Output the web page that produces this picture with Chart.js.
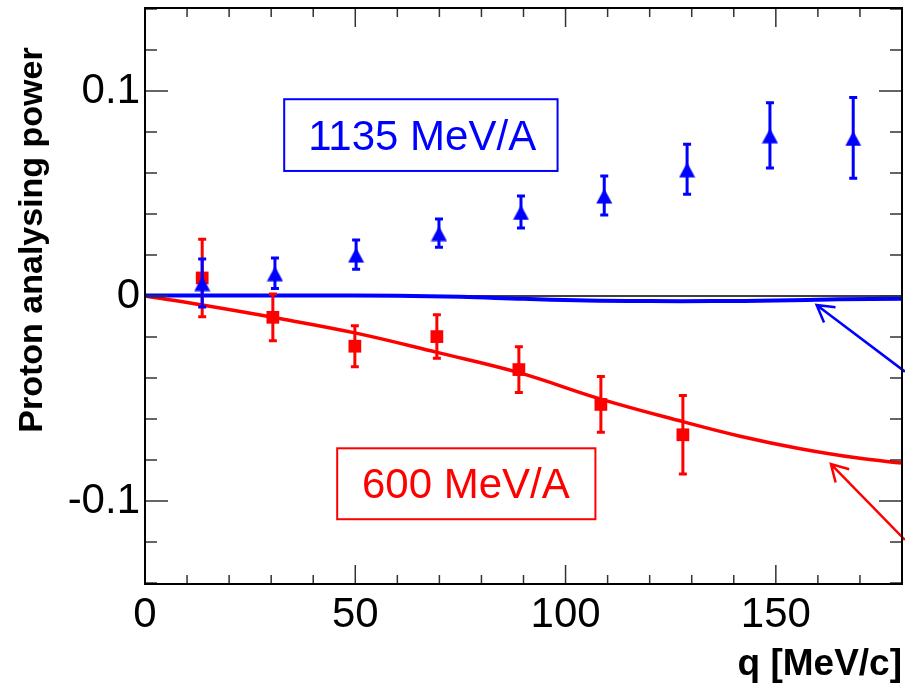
<!DOCTYPE html>
<html>
<head>
<meta charset="utf-8">
<script src="https://cdn.jsdelivr.net/npm/chart.js@4.4.1/dist/chart.umd.min.js"></script>
<style>
  html, body { margin: 0; padding: 0; background: #fff; overflow: hidden; }
  canvas { display: block; }
</style>
</head>
<body>
<canvas id="chart" width="905" height="691"></canvas>
<script>
// 1135 MeV/A measurements (q in MeV/c, analysing power, error)
const blueQ = [13.6, 30.9, 50.2, 69.9, 89.4, 109.2, 128.9, 148.6, 168.4];
const blueA = [0.0063, 0.0111, 0.0202, 0.0307, 0.0410, 0.0490, 0.0618, 0.0784, 0.0771];
const blueErr = [0.0117, 0.0074, 0.0071, 0.0069, 0.0078, 0.0095, 0.0122, 0.0159, 0.0197];

// 600 MeV/A measurements
const redQ = [13.6, 30.4, 49.9, 69.4, 88.9, 108.4, 127.9];
const redA = [0.0088, -0.0104, -0.0245, -0.0198, -0.0359, -0.0529, -0.0677];
const redErr = [0.0189, 0.0114, 0.0100, 0.0106, 0.0112, 0.0136, 0.0191];

// model curves
const blueCurveQ = [0, 20, 40, 60, 75, 90, 105, 120, 135, 150, 165, 180];
const blueCurveA = [0.0002, 0.0002, 0.0002, 0.0001, -0.0004, -0.0014, -0.0022, -0.0025, -0.0025, -0.0022, -0.0016, -0.0013];
const redCurveQ = [0, 13.6, 30.4, 49.9, 69.4, 88.9, 108.4, 127.9, 141.5, 155.8, 170, 180];
const redCurveA = [0, -0.0044, -0.0104, -0.0180, -0.0275, -0.0374, -0.0503, -0.0613, -0.0684, -0.0745, -0.0792, -0.0815];

// axis setup
const qMin = 0, qMax = 180, qStep = 10, qMajor = 50;
const aMin = -0.1405, aMax = 0.1405, aStep = 0.02;

const BLUE = '#0000ff';
const RED = '#ff0000';
const FONT = "'Liberation Sans', Arial, Helvetica, sans-serif";

// text boxes and arrows, in data units
const labels = [
  { text: '1135 MeV/A', color: BLUE, x0: 33.1, x1: 98.1, y0: 0.0960, y1: 0.0610, tx: 65.9, ty: 0.0712 },
  { text: '600 MeV/A', color: RED, x0: 45.7, x1: 107.1, y0: -0.0743, y1: -0.1089, tx: 76.3, ty: -0.0987 }
];
const arrows = [
  { color: BLUE, from: [180.7, -0.0369], to: [159.7, -0.0044] },
  { color: RED, from: [180.7, -0.1190], to: [163.1, -0.0820] }
];

function pts(xs, ys) {
  return xs.map((x, i) => ({ x: x, y: ys[i] }));
}

// ROOT style filled triangle, centred on its box
const tri = document.createElement('canvas');
tri.width = 17; tri.height = 17;
(function () {
  const c = tri.getContext('2d');
  c.fillStyle = BLUE;
  c.beginPath();
  c.moveTo(8.5, 1.5);
  c.lineTo(16.5, 16.5);
  c.lineTo(0.5, 16.5);
  c.closePath();
  c.fill();
})();

const isMajorA = v => Math.abs(v * 10 - Math.round(v * 10)) < 1e-6;

// keep the plot frame where the reference has it
function pinScale(size) {
  return s => {
    if (s.isHorizontal()) s.height = size; else s.width = size;
    s.paddingTop = 0; s.paddingBottom = 0;
    s.paddingLeft = 0; s.paddingRight = 0;
  };
}

const decor = {
  id: 'decor',
  beforeDatasetsDraw(chart) {
    const { ctx, chartArea, scales } = chart;
    const y0 = scales.y.getPixelForValue(0);
    ctx.save();
    ctx.strokeStyle = '#000';
    ctx.lineWidth = 1.5;
    ctx.beginPath();
    ctx.moveTo(chartArea.left, y0);
    ctx.lineTo(chartArea.right, y0);
    ctx.stroke();
    ctx.restore();
  },
  beforeDatasetDraw(chart, args) {
    const ds = chart.data.datasets[args.index];
    if (!ds.errors) return;
    const { ctx, scales } = chart;
    ctx.save();
    ctx.strokeStyle = ds.borderColor;
    ctx.lineWidth = 3;
    ds.data.forEach((p, i) => {
      const x = scales.x.getPixelForValue(p.x);
      const yt = scales.y.getPixelForValue(p.y + ds.errors[i]);
      const yb = scales.y.getPixelForValue(p.y - ds.errors[i]);
      ctx.beginPath();
      ctx.moveTo(x, yt); ctx.lineTo(x, yb);
      ctx.moveTo(x - 4, yt); ctx.lineTo(x + 4, yt);
      ctx.moveTo(x - 4, yb); ctx.lineTo(x + 4, yb);
      ctx.stroke();
    });
    ctx.restore();
  },
  afterDatasetsDraw(chart) {
    const { ctx, scales } = chart;
    const X = v => scales.x.getPixelForValue(v);
    const Y = v => scales.y.getPixelForValue(v);
    ctx.save();
    labels.forEach(l => {
      ctx.strokeStyle = l.color;
      ctx.lineWidth = 2;
      ctx.strokeRect(X(l.x0), Y(l.y0), X(l.x1) - X(l.x0), Y(l.y1) - Y(l.y0));
      ctx.fillStyle = l.color;
      ctx.font = '42px ' + FONT;
      ctx.textAlign = 'center';
      ctx.textBaseline = 'alphabetic';
      ctx.fillText(l.text, X(l.tx), Y(l.ty));
    });
    arrows.forEach(a => {
      const x1 = X(a.from[0]), y1 = Y(a.from[1]);
      const x2 = X(a.to[0]), y2 = Y(a.to[1]);
      const ang = Math.atan2(y1 - y2, x1 - x2);
      const len = 19, spread = Math.PI / 6;
      ctx.strokeStyle = a.color;
      ctx.lineWidth = 2.5;
      ctx.beginPath();
      ctx.moveTo(x1, y1); ctx.lineTo(x2, y2);
      ctx.moveTo(x2 + len * Math.cos(ang - spread), y2 + len * Math.sin(ang - spread));
      ctx.lineTo(x2, y2);
      ctx.lineTo(x2 + len * Math.cos(ang + spread), y2 + len * Math.sin(ang + spread));
      ctx.stroke();
    });
    ctx.restore();
  },
  afterDraw(chart) {
    const { ctx, chartArea: a, scales } = chart;
    ctx.save();
    // ticks on all four sides, pointing inwards
    ctx.strokeStyle = '#333';
    ctx.lineWidth = 1.5;
    ctx.beginPath();
    scales.x.ticks.forEach(t => {
      const x = scales.x.getPixelForValue(t.value);
      const len = t.value % qMajor === 0 ? 19 : 9;
      ctx.moveTo(x, a.bottom); ctx.lineTo(x, a.bottom - len);
      ctx.moveTo(x, a.top); ctx.lineTo(x, a.top + len);
    });
    scales.y.ticks.forEach(t => {
      const y = scales.y.getPixelForValue(t.value);
      const len = isMajorA(t.value) ? 23 : 12;
      ctx.moveTo(a.left, y); ctx.lineTo(a.left + len, y);
      ctx.moveTo(a.right, y); ctx.lineTo(a.right - len, y);
    });
    ctx.stroke();
    // frame
    ctx.strokeStyle = '#000';
    ctx.lineWidth = 2;
    ctx.strokeRect(a.left, a.top, a.right - a.left, a.bottom - a.top);
    // y title
    ctx.fillStyle = '#000';
    ctx.font = 'bold 34px ' + FONT;
    ctx.textAlign = 'center';
    ctx.textBaseline = 'alphabetic';
    ctx.translate(42, 240);
    ctx.rotate(-Math.PI / 2);
    ctx.fillText('Proton analysing power', 0, 0);
    ctx.restore();
  }
};

new Chart(document.getElementById('chart'), {
  type: 'scatter',
  data: {
    datasets: [
      {
        label: '1135 MeV/A',
        data: pts(blueQ, blueA),
        errors: blueErr,
        pointStyle: tri,
        pointRadius: 9,
        backgroundColor: BLUE,
        borderColor: BLUE,
        order: 0
      },
      {
        label: '600 MeV/A',
        data: pts(redQ, redA),
        errors: redErr,
        pointStyle: 'rect',
        pointRadius: 9,
        borderWidth: 0,
        backgroundColor: RED,
        borderColor: RED,
        order: 1
      },
      {
        label: 'model 1135',
        data: pts(blueCurveQ, blueCurveA),
        showLine: true,
        pointRadius: 0,
        borderColor: BLUE,
        borderWidth: 4,
        tension: 0.4,
        order: 2
      },
      {
        label: 'model 600',
        data: pts(redCurveQ, redCurveA),
        showLine: true,
        pointRadius: 0,
        borderColor: RED,
        borderWidth: 3.5,
        tension: 0.4,
        order: 3
      }
    ]
  },
  options: {
    responsive: false,
    animation: false,
    devicePixelRatio: 1,
    layout: { autoPadding: false, padding: { top: 8, right: 3, left: 0, bottom: 0 } },
    plugins: { legend: { display: false }, tooltip: { enabled: false } },
    scales: {
      x: {
        type: 'linear',
        min: qMin,
        max: qMax,
        afterFit: pinScale(107),
        grid: { display: false, drawTicks: false },
        border: { display: false },
        ticks: {
          stepSize: qStep,
          autoSkip: false,
          maxRotation: 0,
          padding: 6,
          color: '#000',
          font: { size: 42, family: FONT },
          callback: v => (v % qMajor === 0 ? String(v) : '')
        },
        title: {
          display: true,
          text: 'q [MeV/c]',
          align: 'end',
          color: '#000',
          font: { size: 37, weight: 'bold', family: FONT },
          padding: { top: 0, bottom: 4 }
        }
      },
      y: {
        type: 'linear',
        min: aMin,
        max: aMax,
        afterFit: pinScale(145),
        grid: { display: false, drawTicks: false },
        border: { display: false },
        ticks: {
          stepSize: aStep,
          includeBounds: false,
          autoSkip: false,
          padding: 5,
          color: '#000',
          font: { size: 42, family: FONT },
          callback: v => (isMajorA(v) ? String(Math.round(v * 10) / 10) : '')
        }
      }
    }
  },
  plugins: [decor]
});
</script>
</body>
</html>
